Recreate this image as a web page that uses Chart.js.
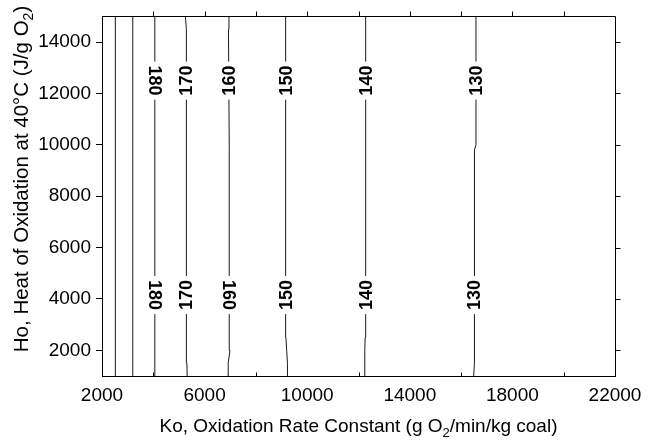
<!DOCTYPE html>
<html>
<head>
<meta charset="utf-8">
<script src="https://cdn.jsdelivr.net/npm/chart.js@4"></script>
<style>
  html, body { margin: 0; padding: 0; background: #fff; }
  canvas { display: block; }
</style>
</head>
<body>
<canvas id="contourChart" width="650" height="441"></canvas>
<script>
/* heights (Ho) where each contour's Ko position was read */
const hoLevels = [1000, 1500, 2000, 2500, 3000, 9800, 10000, 14500, 15000];

/* Ko position of each contour line at those heights */
const lineA = [2520, 2520, 2520, 2520, 2520, 2520, 2520, 2520, 2520];
const lineB = [3200, 3200, 3200, 3200, 3200, 3200, 3200, 3200, 3200];
const line180 = [4060, 4060, 4060, 4060, 4060, 4060, 4060, 4060, 4060];
const line170 = [5320, 5310, 5300, 5290, 5290, 5290, 5290, 5280, 5250];
const line160 = [6950, 6920, 6990, 6960, 6960, 6960, 6960, 6930, 6950];
const line150 = [9240, 9230, 9200, 9170, 9160, 9160, 9160, 9160, 9160];
const line140 = [12230, 12240, 12250, 12260, 12280, 12280, 12280, 12280, 12280];
const line130 = [16490, 16520, 16520, 16520, 16520, 16520, 16580, 16580, 16580];

const contourLines = [lineA, lineB, line180, line170, line160, line150, line140, line130];
const contourLabels = ["", "", "180", "170", "160", "150", "140", "130"];

/* heights where the labels sit */
const labelHeights = [12500, 4150];

const xTicks = [2000, 6000, 10000, 14000, 18000, 22000];
const yTicks = [2000, 4000, 6000, 8000, 10000, 12000, 14000];

const FONT = '"Liberation Sans", Arial, sans-serif';

/* Ko of a contour at a given Ho (straight interpolation between read points) */
function koAt(xs, ho) {
    for (let j = 0; j < hoLevels.length - 1; j++) {
        if (ho >= hoLevels[j] && ho <= hoLevels[j + 1]) {
            const t = (ho - hoLevels[j]) / (hoLevels[j + 1] - hoLevels[j]);
            return xs[j] + t * (xs[j + 1] - xs[j]);
        }
    }
    return xs[xs.length - 1];
}

/* frame, extra tick marks, contour labels and axis titles */
const contourExtras = {
    id: "contourExtras",
    afterDatasetsDraw(chart) {
        const ctx = chart.ctx;
        const xs = chart.scales.x;
        const ys = chart.scales.y;
        ctx.save();
        ctx.font = "bold 18px " + FONT;
        ctx.textAlign = "center";
        ctx.textBaseline = "middle";
        contourLines.forEach((line, i) => {
            const txt = contourLabels[i];
            if (!txt) return;
            labelHeights.forEach((ho, k) => {
                const px = xs.getPixelForValue(koAt(line, ho));
                const py = ys.getPixelForValue(ho);
                const w = ctx.measureText(txt).width;
                ctx.fillStyle = "#fff";
                ctx.fillRect(px - 8, py - w / 2 - 4, 16, w + 8);
                ctx.save();
                ctx.translate(px, py);
                // the 180 labels and the lower 160 read top to bottom
                const down = txt === "180" || (txt === "160" && k === 1);
                ctx.rotate(down ? Math.PI / 2 : -Math.PI / 2);
                ctx.fillStyle = "#000";
                ctx.fillText(txt, 0, 1);
                ctx.restore();
            });
        });
        ctx.restore();
    },
    afterDraw(chart) {
        const ctx = chart.ctx;
        const a = chart.chartArea;
        const xs = chart.scales.x;
        const ys = chart.scales.y;
        const L = Math.round(a.left) + 0.5, R = Math.round(a.right) + 0.5;
        const T = Math.round(a.top) + 0.5, B = Math.round(a.bottom) + 0.5;
        ctx.save();
        ctx.strokeStyle = "#000";
        ctx.lineWidth = 1;
        ctx.beginPath();
        ctx.moveTo(L, T); ctx.lineTo(R, T); ctx.lineTo(R, B);
        // top ticks outward, bottom unlabelled ticks inward
        for (let v = 4000; v <= 20000; v += 2000) {
            const px = Math.round(xs.getPixelForValue(v)) + 0.5;
            ctx.moveTo(px, T); ctx.lineTo(px, T - 5);
            if ((v - 2000) % 4000 !== 0) {
                ctx.moveTo(px, B); ctx.lineTo(px, B - 4);
            }
        }
        // right ticks outward
        yTicks.forEach(v => {
            const py = Math.round(ys.getPixelForValue(v)) + 0.5;
            ctx.moveTo(R, py); ctx.lineTo(R + 5, py);
        });
        ctx.stroke();

        ctx.fillStyle = "#000";
        ctx.textBaseline = "alphabetic";
        // axis titles with subscript
        const xParts = ["Ko, Oxidation Rate Constant (g O", "2", "/min/kg coal)"];
        drawSubTitle(ctx, xParts, 19, (a.left + a.right) / 2, 432, 0);
        const yParts = ["Ho, Heat of Oxidation at 40\u00B0C (J/g O", "2", ")"];
        drawSubTitle(ctx, yParts, 20.5, 28, 179, -Math.PI / 2);
        ctx.restore();
    }
};

function drawSubTitle(ctx, parts, size, cx, cy, rot) {
    const main = size + "px " + FONT;
    const sub = Math.round(size * 0.68) + "px " + FONT;
    ctx.font = main;
    const w0 = ctx.measureText(parts[0]).width;
    const w2 = ctx.measureText(parts[2]).width;
    ctx.font = sub;
    const w1 = ctx.measureText(parts[1]).width;
    const total = w0 + w1 + w2;
    ctx.save();
    ctx.translate(cx, cy);
    ctx.rotate(rot);
    ctx.textAlign = "left";
    let x = -total / 2;
    ctx.font = main;
    ctx.fillText(parts[0], x, 0);
    x += w0;
    ctx.font = sub;
    ctx.fillText(parts[1], x, size * 0.25);
    x += w1;
    ctx.font = main;
    ctx.fillText(parts[2], x, 0);
    ctx.restore();
}

const datasets = contourLines.map((line, i) => ({
    label: contourLabels[i] || "contour",
    data: line.map((ko, j) => ({ x: ko, y: hoLevels[j] })),
    showLine: true,
    borderColor: "#1a1a1a",
    borderWidth: 1,
    pointRadius: 0,
    tension: 0,
}));

const ctxContour = document.getElementById("contourChart").getContext("2d");
const contourChart = new Chart(ctxContour, {
    type: "scatter",
    data: { datasets: datasets },
    options: {
        responsive: false,
        animation: false,
        devicePixelRatio: 1,
        layout: { padding: { top: 16, right: 35, left: 0, bottom: 0 } },
        plugins: {
            legend: { display: false },
            tooltip: { enabled: false },
        },
        scales: {
            x: {
                type: "linear",
                min: 2000,
                max: 22000,
                afterBuildTicks: s => { s.ticks = xTicks.map(v => ({ value: v })); },
                ticks: {
                    autoSkip: false,
                    maxRotation: 0,
                    padding: 8,
                    color: "#000",
                    font: { family: FONT, size: 19 },
                    callback: v => String(v),
                },
                grid: { display: false, drawTicks: false },
                border: { display: true, color: "#000", width: 1 },
                afterFit: s => { s.height = 65; },
            },
            y: {
                type: "linear",
                min: 1000,
                max: 15000,
                afterBuildTicks: s => { s.ticks = yTicks.map(v => ({ value: v })); },
                ticks: {
                    autoSkip: false,
                    padding: 5,
                    color: "#000",
                    font: { family: FONT, size: 19 },
                    callback: v => String(v),
                },
                grid: { display: true, drawOnChartArea: false, drawTicks: true, tickLength: 6, color: "#000" },
                border: { display: true, color: "#000", width: 1 },
                afterFit: s => { s.width = 102; },
            },
        },
    },
    plugins: [contourExtras],
});
</script>
</body>
</html>
